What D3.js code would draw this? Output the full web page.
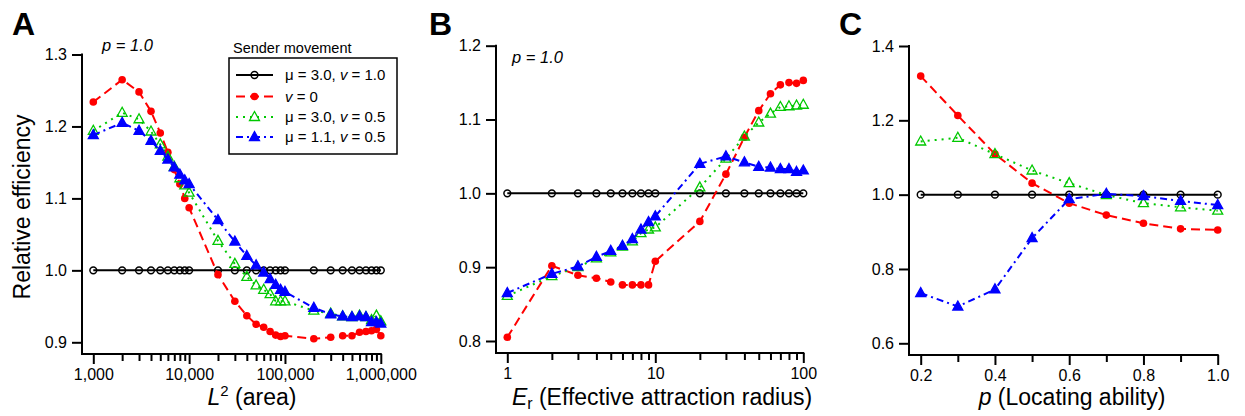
<!DOCTYPE html>
<meta charset="utf-8">
<style>
  body { margin: 0; background: #fff; font-family: "Liberation Sans", Arial, sans-serif; }
  text { fill: #000; font-family: "Liberation Sans", Arial, sans-serif; }
  .axis line { stroke: #000; stroke-width: 2; }
  .axis text { font-size: 16px; }
</style>
<body>
<svg id="chart" width="1245" height="416"></svg>
<script src="https://d3js.org/d3.v7.min.js"></script>
<script>
// ---- data ----
var areaX = [1000, 2000, 3000, 4000, 5000, 6000, 7000, 8000, 9000, 10000,
  20000, 30000, 40000, 50000, 60000, 70000, 80000, 90000, 100000,
  200000, 300000, 400000, 500000, 600000, 700000, 800000, 900000, 1000000];
var areaBlack = [1, 1, 1, 1, 1, 1, 1, 1, 1, 1, 1, 1, 1, 1, 1, 1, 1, 1, 1, 1, 1, 1, 1, 1, 1, 1, 1, 1];
var areaRed = [1.234, 1.265, 1.248, 1.221, 1.191, 1.164, 1.140, 1.120, 1.100, 1.087,
  0.994, 0.957, 0.937, 0.925, 0.921, 0.915, 0.910, 0.908, 0.909,
  0.905, 0.907, 0.909, 0.909, 0.914, 0.915, 0.916, 0.918, 0.909];
var areaGreen = [1.194, 1.219, 1.210, 1.193, 1.175, 1.158, 1.144, 1.128, 1.118, 1.108,
  1.041, 1.009, 0.991, 0.979, 0.973, 0.967, 0.957, 0.957, 0.957,
  0.944, 0.940, 0.936, 0.935, 0.937, 0.935, 0.931, 0.937, 0.929];
var areaBlue = [1.188, 1.205, 1.194, 1.180, 1.166, 1.154, 1.143, 1.133, 1.125, 1.120,
  1.070, 1.040, 1.020, 1.007, 0.997, 0.988, 0.980, 0.973, 0.970,
  0.948, 0.939, 0.936, 0.935, 0.936, 0.935, 0.928, 0.928, 0.926];

var radiusX = [1, 2, 3, 4, 5, 6, 7, 8, 9, 10, 20, 30, 40, 50, 60, 70, 80, 90, 100];
var radiusBlack = [1, 1, 1, 1, 1, 1, 1, 1, 1, 1, 1, 1, 1, 1, 1, 1, 1, 1, 1];
var radiusRed = [0.805, 0.902, 0.889, 0.885, 0.880, 0.876, 0.876, 0.876, 0.876, 0.908,
  0.962, 1.026, 1.076, 1.112, 1.135, 1.147, 1.150, 1.149, 1.153];
var radiusGreen = [0.861, 0.888, 0.900, 0.912, 0.920, 0.928, 0.935, 0.946, 0.951, 0.954,
  1.008, 1.047, 1.077, 1.096, 1.108, 1.117, 1.118, 1.119, 1.120];
var radiusBlue = [0.865, 0.891, 0.901, 0.914, 0.922, 0.929, 0.938, 0.951, 0.961, 0.969,
  1.040, 1.050, 1.042, 1.036, 1.035, 1.033, 1.033, 1.029, 1.031];

var locX = [0.2, 0.3, 0.4, 0.5, 0.6, 0.7, 0.8, 0.9, 1.0];
var locBlack = [1, 1, 1, 1, 1, 1, 1, 1, 1];
var locRed = [1.319, 1.213, 1.109, 1.031, 0.977, 0.945, 0.923, 0.908, 0.905];
var locGreen = [1.143, 1.153, 1.109, 1.065, 1.031, 0.999, 0.977, 0.966, 0.957];
var locBlue = [0.735, 0.699, 0.745, 0.883, 0.988, 1.002, 0.996, 0.983, 0.972];

var areaMajor = [1000, 10000, 100000, 1000000];
var areaMinor = [2000, 3000, 4000, 5000, 6000, 7000, 8000, 9000,
  20000, 30000, 40000, 50000, 60000, 70000, 80000, 90000,
  200000, 300000, 400000, 500000, 600000, 700000, 800000, 900000];
var radiusMajor = [1, 10, 100];
var radiusMinor = [2, 3, 4, 5, 6, 7, 8, 9, 20, 30, 40, 50, 60, 70, 80, 90];
var locMajor = [0.2, 0.4, 0.6, 0.8, 1.0];
var locMinor = [0.3, 0.5, 0.7, 0.9];
var yTicksA = [0.9, 1.0, 1.1, 1.2, 1.3];
var yTicksB = [0.8, 0.9, 1.0, 1.1, 1.2];
var yTicksC = [0.6, 0.8, 1.0, 1.2, 1.4];

var legendLabels = [["μ = 3.0, ", "v", " = 1.0"], ["", "v", " = 0"],
  ["μ = 3.0, ", "v", " = 0.5"], ["μ = 1.1, ", "v", " = 0.5"]];

// ---- styles ----
var styles = [
  {color: "#000000", dash: null, marker: "circle", fill: "none"},
  {color: "#ff0000", dash: "9,5", marker: "dot", fill: "#ff0000"},
  {color: "#00c800", dash: "2,5", marker: "triangle", fill: "none"},
  {color: "#0000ff", dash: "7,4,2,4", marker: "triangle", fill: "#0000ff"}
];

var svg = d3.select("#chart");
var tri = "M0,-5.5L5,3.5L-5,3.5Z";

function addMarker(g, st, cx, cy) {
  if (st.marker == "circle") {
    g.append("circle").attr("cx", cx).attr("cy", cy).attr("r", 3.4)
      .attr("fill", "none").attr("stroke", st.color).attr("stroke-width", 1.5);
  } else if (st.marker == "dot") {
    g.append("circle").attr("cx", cx).attr("cy", cy).attr("r", 3.8)
      .attr("fill", st.fill);
  } else {
    g.append("path").attr("d", tri).attr("transform", "translate(" + cx + "," + cy + ")")
      .attr("fill", st.fill).attr("stroke", st.color).attr("stroke-width", 1.3);
  }
}

function drawPanel(p) {
  var g = svg.append("g");
  var x = p.x, y = p.y;

  // axes
  var gx = g.append("g").attr("class", "axis").attr("transform", "translate(0," + p.yBot + ")")
    .call(d3.axisBottom(x).tickValues(p.xMajor).tickFormat(p.xFormat).tickSize(10).tickPadding(5));
  gx.select(".domain").remove();
  var gm = g.append("g").attr("class", "axis").attr("transform", "translate(0," + p.yBot + ")")
    .call(d3.axisBottom(x).tickValues(p.xMinor).tickFormat("").tickSize(7));
  gm.select(".domain").remove();
  var gy = g.append("g").attr("class", "axis").attr("transform", "translate(" + p.x0 + ",0)")
    .call(d3.axisLeft(y).tickValues(p.yTicks).tickFormat(d3.format(".1f")).tickSize(10).tickPadding(5));
  gy.select(".domain").remove();

  g.append("line").attr("x1", p.x0).attr("x2", p.x0).attr("y1", y(p.yTicks[p.yTicks.length - 1]) - 1).attr("y2", p.yBot + 1)
    .attr("stroke", "#000").attr("stroke-width", 2);
  g.append("line").attr("x1", p.x0 - 1).attr("x2", x(p.xMajor[p.xMajor.length - 1]) + 1).attr("y1", p.yBot).attr("y2", p.yBot)
    .attr("stroke", "#000").attr("stroke-width", 2);

  // series
  p.series.forEach(function(ys, k) {
    var st = styles[k];
    var line = d3.line().x(function(d, i) { return x(p.xs[i]); }).y(function(d) { return y(d); });
    g.append("path").attr("d", line(ys)).attr("fill", "none")
      .attr("stroke", st.color).attr("stroke-width", 2)
      .attr("stroke-dasharray", st.dash);
    var mg = g.append("g");
    ys.forEach(function(v, i) { addMarker(mg, st, x(p.xs[i]), y(v)); });
  });

  // panel letter
  svg.append("text").attr("x", p.letterX).attr("y", 35).attr("font-size", 32)
    .attr("font-weight", "bold").text(p.letter);

  // x title
  var t = svg.append("text").attr("x", p.titleX).attr("y", 405).attr("font-size", 23)
    .attr("text-anchor", "middle");
  p.title(t);
}

drawPanel({
  letter: "A", letterX: 12,
  x: d3.scaleLog().domain([1000, 1000000]).range([93.3, 380.8]),
  y: d3.scaleLinear().domain([0.9, 1.3]).range([342.3, 54.5]),
  x0: 82, yBot: 354,
  xMajor: areaMajor, xMinor: areaMinor, xFormat: d3.format(","), yTicks: yTicksA,
  xs: areaX, series: [areaBlack, areaRed, areaGreen, areaBlue],
  titleX: 252,
  title: function(t) {
    t.append("tspan").attr("font-style", "italic").text("L");
    t.append("tspan").attr("font-size", 15).attr("dy", -9).text("2");
    t.append("tspan").attr("dy", 9).text(" (area)");
  }
});

drawPanel({
  letter: "B", letterX: 429,
  x: d3.scaleLog().domain([1, 100]).range([507.3, 803.3]),
  y: d3.scaleLinear().domain([0.8, 1.2]).range([341, 45.7]),
  x0: 496, yBot: 353,
  xMajor: radiusMajor, xMinor: radiusMinor, xFormat: d3.format("d"), yTicks: yTicksB,
  xs: radiusX, series: [radiusBlack, radiusRed, radiusGreen, radiusBlue],
  titleX: 662,
  title: function(t) {
    t.append("tspan").attr("font-style", "italic").text("E");
    t.append("tspan").attr("font-size", 16).attr("dy", 4).text("r");
    t.append("tspan").attr("dy", -4).text(" (Effective attraction radius)");
  }
});

drawPanel({
  letter: "C", letterX: 839,
  x: d3.scaleLinear().domain([0.2, 1.0]).range([920.7, 1217.7]),
  y: d3.scaleLinear().domain([0.6, 1.4]).range([343.3, 46]),
  x0: 909, yBot: 355,
  xMajor: locMajor, xMinor: locMinor, xFormat: d3.format(".1f"), yTicks: yTicksC,
  xs: locX, series: [locBlack, locRed, locGreen, locBlue],
  titleX: 1072,
  title: function(t) {
    t.append("tspan").attr("font-style", "italic").text("p");
    t.append("tspan").text(" (Locating ability)");
  }
});

// y title
svg.append("text").attr("transform", "translate(30,207) rotate(-90)")
  .attr("text-anchor", "middle").attr("font-size", 23).text("Relative efficiency");

// p = 1.0 notes
svg.append("text").attr("x", 102).attr("y", 50.5).attr("font-size", 16.5)
  .attr("font-style", "italic").text("p = 1.0");
svg.append("text").attr("x", 512).attr("y", 63).attr("font-size", 16.5)
  .attr("font-style", "italic").text("p = 1.0");

// legend
var lg = svg.append("g");
lg.append("text").attr("x", 233).attr("y", 52.5).attr("font-size", 14.5).text("Sender movement");
lg.append("rect").attr("x", 229).attr("y", 58).attr("width", 168).attr("height", 96)
  .attr("fill", "none").attr("stroke", "#000").attr("stroke-width", 1.5);
var rowY = [75, 96.5, 117, 137];
styles.forEach(function(st, k) {
  var yy = rowY[k];
  lg.append("line").attr("x1", 236).attr("x2", 273).attr("y1", yy).attr("y2", yy)
    .attr("stroke", st.color).attr("stroke-width", 2).attr("stroke-dasharray", st.dash);
  addMarker(lg, st, 254.5, yy);
  var t = lg.append("text").attr("x", 285).attr("y", yy).attr("dy", "0.35em").attr("font-size", 15);
  t.append("tspan").text(legendLabels[k][0]);
  t.append("tspan").attr("font-style", "italic").text(legendLabels[k][1]);
  t.append("tspan").text(legendLabels[k][2]);
});
</script>
</body>
